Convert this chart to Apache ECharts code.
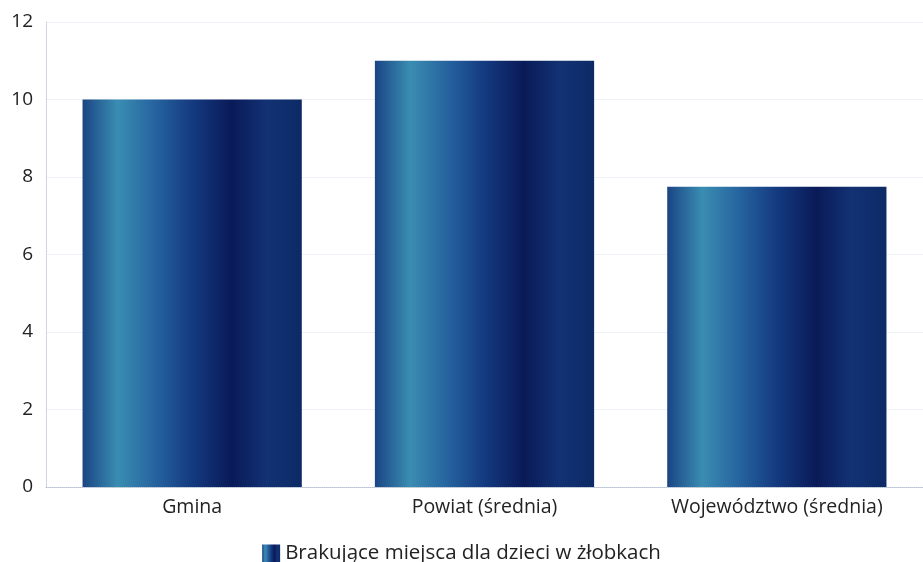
<!DOCTYPE html>
<html><head><meta charset="utf-8">
<script src="https://cdn.jsdelivr.net/npm/echarts@6/dist/echarts.min.js"></script>
<style>html,body{margin:0;padding:0;background:#fff}#c{width:923px;height:562px}</style>
</head><body><div id="c"></div>
<script>
const categories = ['Gmina', 'Powiat (średnia)', 'Województwo (średnia)'];
const values = [10, 11, 7.75];
const seriesName = 'Brakujące miejsca dla dzieci w żłobkach';
const yTicks = {min: 0, max: 12, interval: 2};

const grad = new echarts.graphic.LinearGradient(0, 0, 1, 0, [
  {offset: 0, color: '#1a4584'},
  {offset: 0.16, color: '#3a8db2'},
  {offset: 0.32, color: '#2766a0'},
  {offset: 0.5, color: '#143a80'},
  {offset: 0.68, color: '#0a1a58'},
  {offset: 0.84, color: '#123274'},
  {offset: 1, color: '#0d2a66'}
]);

const chart = echarts.init(document.getElementById('c'));
chart.setOption({
  animation: false,
  textStyle: {fontFamily: 'Open Sans'},
  grid: {left: 46, width: 885, top: 22, height: 465},
  legend: {
    top: 538, left: 'center', itemWidth: 18, itemHeight: 18, itemGap: 6,
    icon: 'rect',
    textStyle: {fontSize: 20.5, color: '#222', fontFamily: 'Open Sans'},
    data: [{name: seriesName, itemStyle: {color: grad}}]
  },
  xAxis: {
    type: 'category', data: categories,
    axisLine: {show: true, lineStyle: {color: '#b8c4d4', type: 'dotted'}},
    axisTick: {show: false},
    axisLabel: {fontSize: 19.5, color: '#222', margin: 10}
  },
  yAxis: {
    type: 'value', min: yTicks.min, max: yTicks.max, interval: yTicks.interval,
    axisLine: {show: true, lineStyle: {color: '#c4cdd9', type: 'dotted'}},
    axisTick: {show: false},
    splitLine: {show: true, lineStyle: {color: '#eef1f5'}},
    axisLabel: {fontSize: 19, color: '#222', margin: 13}
  },
  series: [{
    name: seriesName, type: 'bar', data: values, barWidth: '75%',
    itemStyle: {color: grad}
  }]
});
</script></body></html>
